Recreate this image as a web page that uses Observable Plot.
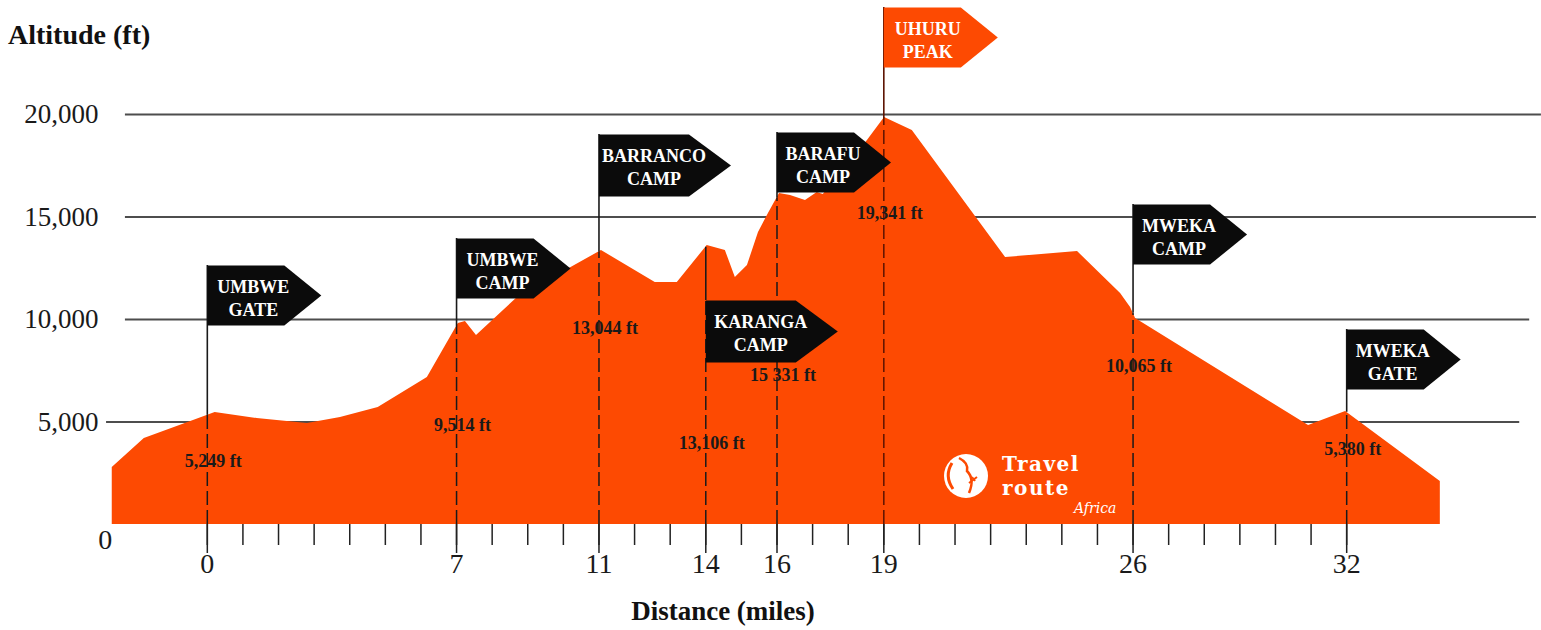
<!DOCTYPE html>
<html>
<head>
<meta charset="utf-8">
<script src="https://cdn.jsdelivr.net/npm/d3@7"></script>
<script src="https://cdn.jsdelivr.net/npm/@observablehq/plot@0.6"></script>
<style>
  body { margin: 0; background: #ffffff; }
  #wrap { position: relative; width: 1541px; height: 630px; font-family: "Liberation Serif", "Times New Roman", serif; overflow: hidden; }
  #chart svg { position: absolute; left: 0; top: 0; }
  .ttl { position: absolute; font-weight: bold; color: #111; white-space: nowrap; z-index: 2; }
  .logo { position: absolute; color: #fff; z-index: 2; white-space: nowrap; }
</style>
</head>
<body>
<div id="wrap">
  <div id="chart"></div>
  <div class="ttl" style="left:8px;top:19px;font-size:28px;">Altitude (ft)</div>
  <div class="ttl" style="left:0;width:1446px;text-align:center;top:596px;font-size:27px;">Distance (miles)</div>
  <svg class="logo" width="54" height="54" style="left:939px;top:449px;">
    <circle cx="27" cy="27" r="22" fill="#ffffff"/>
    <path d="M13 14 Q5 27 14 40" fill="none" stroke="#fd4a02" stroke-width="3"/>
    <path d="M20 9 Q30 14 28 22 Q36 30 30 44" fill="none" stroke="#fd4a02" stroke-width="2.5"/>
    <path d="M30 34 l8 -6 M33 28 l3 4" stroke="#fd4a02" stroke-width="2"/>
  </svg>
  <div class="logo" style="left:1002px;top:452px;font:bold 20px/24px 'DejaVu Serif',serif;letter-spacing:1.5px;">Travel</div>
  <div class="logo" style="left:1002px;top:476px;font:bold 20px/24px 'DejaVu Serif',serif;letter-spacing:1.5px;">route</div>
  <div class="logo" style="left:1074px;top:500px;font:italic 14px/16px 'DejaVu Serif',serif;">Africa</div>
</div>
<script>
// ---- Data ----
// Altitude profile (distance in miles, altitude in ft)
const profileMiles = [-2.67, -1.77, -0.39, 0.22, 1.40, 2.81, 3.74, 4.80, 6.18, 7.05, 7.25, 7.56, 8.71, 11.07, 12.58, 13.20, 14.04, 14.55, 14.83, 15.17, 15.48, 15.76, 16.07, 16.38, 16.80, 17.13, 17.30, 18.54, 19.02, 19.80, 22.42, 24.44, 25.65, 25.93, 26.07, 30.93, 31.97, 34.63];
const profileAlt   = [2780, 4195, 5073, 5463, 5171, 4927, 5220, 5707, 7171, 9805, 9902, 9219, 11073, 13366, 11805, 11805, 13610, 13366, 12049, 12634, 14244, 15171, 16146, 16049, 15805, 16195, 16098, 18732, 19853, 19219, 13024, 13317, 11268, 10585, 10049, 4829, 5512, 2098];

// Waypoints (camps / gates)
const waypointMiles  = [0, 7, 11, 14, 16, 19, 26, 32];
const waypointNames  = ["UMBWE\nGATE", "UMBWE\nCAMP", "BARRANCO\nCAMP", "KARANGA\nCAMP", "BARAFU\nCAMP", "UHURU\nPEAK", "MWEKA\nCAMP", "MWEKA\nGATE"];
const waypointLabels = ["5,249 ft", "9,514 ft", "13,044 ft", "13,106 ft", "15 331 ft", "19,341 ft", "10,065 ft", "5,380 ft"];
const flagAlt        = [12634, 13951, 19024, 10927, 19122, 25220, 15610, 9512];
const labelAlt       = [3073, 4829, 9561, 3951, 7268, 15171, 7707, 3659];

// Axes
const mileTicks  = d3.range(0, 33);
const yTicks     = [5000, 10000, 15000, 20000];
const yZeroLabel = [{mile: -2.87, alt: 0, text: "0"}];
const gridStart  = [-2.83, -2.3, -2.3, -2.3];
const gridEnd    = [36.86, 37.14, 37.33, 37.47];

// ---- Build ----
const ORANGE = "#fd4a02";
const SERIF = "'Liberation Serif', 'Times New Roman', serif";
const profile = profileMiles.map((mile, i) => ({mile, alt: profileAlt[i]}));
function altAt(m) {
  const i = Math.min(Math.max(d3.bisectRight(profileMiles, m), 1), profileMiles.length - 1);
  const x0 = profileMiles[i - 1], x1 = profileMiles[i];
  return profileAlt[i - 1] + (profileAlt[i] - profileAlt[i - 1]) * (m - x0) / (x1 - x0);
}
const altNum = waypointLabels.map(s => +s.replace(/[^\d]/g, ""));
const summitIdx = altNum.indexOf(d3.max(altNum));
const waypoints = waypointMiles.map((mile, i) => ({
  mile,
  name: waypointNames[i],
  label: waypointLabels[i],
  flagAlt: flagAlt[i],
  labelAlt: labelAlt[i],
  ground: altAt(mile),
  wide: d3.max(waypointNames[i].split("\n"), s => s.length) >= 7,
  summit: i === summitIdx
}));

const flagSym = (w, p, h) => ({
  draw(ctx) {
    ctx.moveTo(0, 0); ctx.lineTo(w, 0); ctx.lineTo(w + p, h / 2);
    ctx.lineTo(w, h); ctx.lineTo(0, h); ctx.closePath();
  }
});
const normalFlag = flagSym(77, 37, 60);
const wideFlag = flagSym(90, 42, 62);

const normalBlack = waypoints.filter(d => !d.wide && !d.summit);
const wideBlack = waypoints.filter(d => d.wide && !d.summit);
const summit = waypoints.filter(d => d.summit);
const others = waypoints.filter(d => !d.summit);

const flagText = {x: "mile", y: "flagAlt", text: "name", dy: 32, fill: "white", fontWeight: "bold", fontSize: 18, fontFamily: SERIF, lineHeight: 1.28, textAnchor: "middle"};

const chart = Plot.plot({
  width: 1541,
  height: 630,
  marginTop: 114,
  marginBottom: 106,
  marginLeft: 100,
  marginRight: 88,
  x: {domain: [-3, 35]},
  y: {domain: [0, 20000]},
  style: {fontFamily: SERIF, color: "#1a1a1a", background: "transparent", overflow: "visible"},
  marks: [
    Plot.ruleY(yTicks, {y: d => d, x1: gridStart, x2: gridEnd, stroke: "#4d4d4d", strokeWidth: 2}),
    Plot.areaY(profile, {x: "mile", y: "alt", fill: ORANGE}),
    // dashed poles inside the terrain
    Plot.ruleX(others, {x: "mile", y1: 0, y2: d => Math.min(d.ground, d.flagAlt), stroke: "#1a1a1a", strokeWidth: 1.5, strokeDasharray: "14,5"}),
    Plot.ruleX(summit, {x: "mile", y1: 0, y2: d => Math.min(d.ground, d.flagAlt), stroke: "#5c1300", strokeWidth: 1.5, strokeDasharray: "14,5"}),
    // solid poles above the terrain
    Plot.ruleX(others, {x: "mile", y1: d => Math.min(d.ground, d.flagAlt), y2: d => Math.max(d.ground, d.flagAlt), stroke: "#1a1a1a", strokeWidth: 1.6}),
    Plot.ruleX(summit, {x: "mile", y1: d => Math.min(d.ground, d.flagAlt), y2: d => Math.max(d.ground, d.flagAlt), stroke: "#5c1300", strokeWidth: 1.6}),
    // x axis ticks and labels
    Plot.axisX({ticks: mileTicks, tickSize: 21, tickFormat: () => "", stroke: "#222", strokeWidth: 1.5, label: null}),
    Plot.axisX({ticks: waypointMiles, tickSize: 29, tickPadding: 0, fontSize: 28, fontFamily: SERIF, tickFormat: d => String(d), stroke: "#222", strokeWidth: 1.5, fill: "#1a1a1a", label: null}),
    // y axis labels
    Plot.axisY({ticks: yTicks, tickSize: 0, tickPadding: 2, fontSize: 27, fontFamily: SERIF, tickFormat: d3.format(","), fill: "#1a1a1a", label: null}),
    Plot.text(yZeroLabel, {x: "mile", y: "alt", text: "text", dy: 16, fontSize: 28, fontFamily: SERIF, fill: "#1a1a1a"}),
    // altitude labels
    Plot.text(waypoints, {x: "mile", y: "labelAlt", text: "label", dx: 6, fontSize: 18, fontWeight: "bold", fontFamily: SERIF, fill: "#1a1a1a"}),
    // flags
    Plot.dot(normalBlack, {x: "mile", y: "flagAlt", symbol: normalFlag, fill: "#0b0b0b", stroke: "none"}),
    Plot.dot(wideBlack, {x: "mile", y: "flagAlt", symbol: wideFlag, fill: "#0b0b0b", stroke: "none"}),
    Plot.dot(summit, {x: "mile", y: "flagAlt", symbol: normalFlag, fill: ORANGE, stroke: "none"}),
    Plot.text(normalBlack, {...flagText, dx: 46}),
    Plot.text(wideBlack, {...flagText, dx: 55}),
    Plot.text(summit, {...flagText, dx: 44})
  ]
});
document.getElementById("chart").appendChild(chart);
</script>
</body>
</html>
